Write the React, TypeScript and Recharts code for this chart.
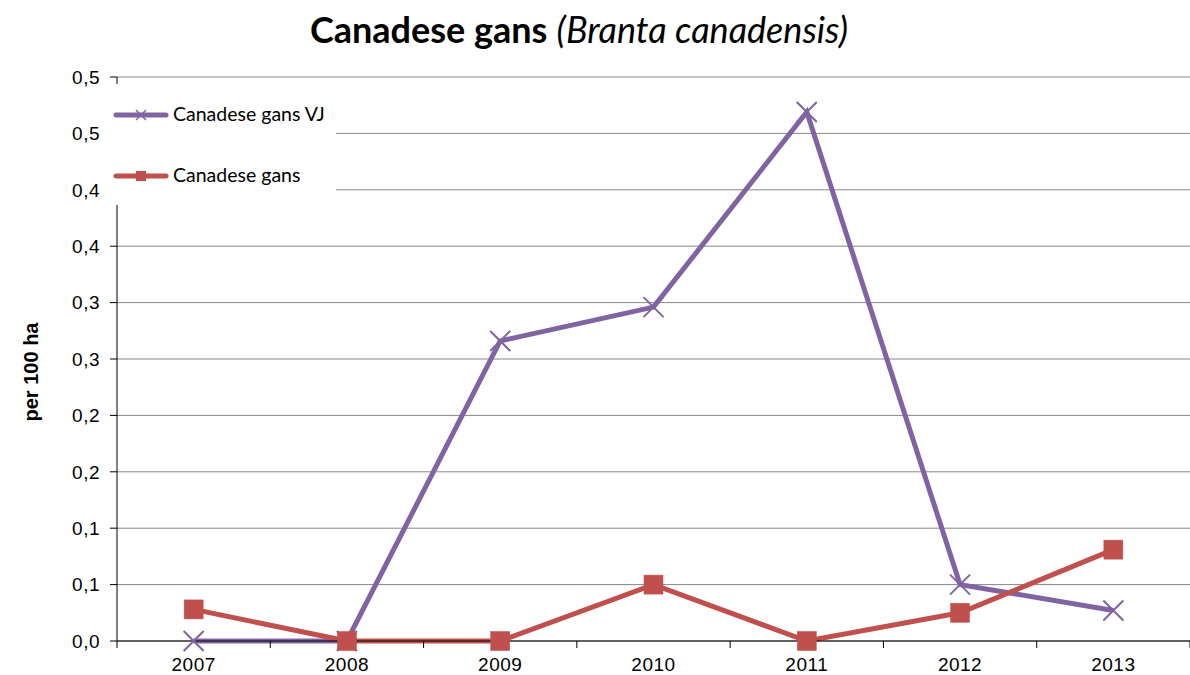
import React from 'react';
import { LineChart, Line, XAxis, YAxis, CartesianGrid, Legend } from 'recharts';

const years = ['2007', '2008', '2009', '2010', '2011', '2012', '2013'];
const vjValues = [0, 0, 0.266, 0.296, 0.469, 0.05, 0.027];
const gansValues = [0.028, 0, 0, 0.05, 0, 0.025, 0.081];
const yTicks = [0, 0.05, 0.1, 0.15, 0.2, 0.25, 0.3, 0.35, 0.4, 0.45, 0.5];
const yTickLabels = ['0,0', '0,1', '0,1', '0,2', '0,2', '0,3', '0,3', '0,4', '0,4', '0,5', '0,5'];
const xTicks = [-0.5, 0, 0.5, 1, 1.5, 2, 2.5, 3, 3.5, 4, 4.5, 5, 5.5, 6, 6.5];
const seriesNames = ['Canadese gans VJ', 'Canadese gans'];

const PURPLE = '#8064A2';
const RED = '#C0504D';

const data = years.map((y, i) => ({ idx: i, year: y, vj: vjValues[i], gans: gansValues[i] }));

const XDot = (props: any) => {
  const { cx, cy } = props;
  if (cx == null || cy == null) return null;
  const s = 10;
  return (
    <g>
      <line x1={cx - s} y1={cy - s} x2={cx + s} y2={cy + s} stroke={PURPLE} strokeWidth={2} />
      <line x1={cx - s} y1={cy + s} x2={cx + s} y2={cy - s} stroke={PURPLE} strokeWidth={2} />
    </g>
  );
};

const SquareDot = (props: any) => {
  const { cx, cy } = props;
  if (cx == null || cy == null) return null;
  const s = 9.5;
  return <rect x={cx - s} y={cy - s} width={2 * s} height={2 * s} fill={RED} stroke={RED} strokeWidth={0.5} />;
};

const XTick = (props: any) => {
  const { x, y, payload } = props;
  const v = payload.value;
  if (Number.isInteger(v)) {
    return (
      <text
        x={x}
        y={y + 30}
        textAnchor="middle"
        fontSize={19}
        letterSpacing={0.5}
        fontFamily="'Liberation Sans', Arial, sans-serif"
        fill="#000"
      >
        {years[v]}
      </text>
    );
  }
  return <line x1={x} x2={x} y1={y} y2={y + 7} stroke="#000" strokeWidth={1} />;
};

const yFormat = (v: number) => {
  const i = yTicks.findIndex((t) => Math.abs(t - v) < 1e-9);
  return i >= 0 ? yTickLabels[i] : String(v);
};

const legendText: React.CSSProperties = {
  position: 'absolute',
  left: 65,
  fontSize: 19.5,
  fontFamily: 'Lato, sans-serif',
  lineHeight: '24px',
  color: '#000',
  whiteSpace: 'nowrap',
};

const renderLegend = () => (
  <div style={{ position: 'relative', width: 228, height: 121, background: '#fff' }}>
    <svg width={64} height={121} style={{ position: 'absolute', left: 0, top: 0 }}>
      <line x1={8} x2={58} y1={31} y2={31} stroke={PURPLE} strokeWidth={5} strokeLinecap="round" />
      <line x1={28} x2={38} y1={26} y2={36} stroke={PURPLE} strokeWidth={1.5} />
      <line x1={28} x2={38} y1={36} y2={26} stroke={PURPLE} strokeWidth={1.5} />
      <line x1={8} x2={58} y1={92} y2={92} stroke={RED} strokeWidth={5} strokeLinecap="round" />
      <rect x={28} y={87} width={10} height={10} fill={RED} />
    </svg>
    <div style={{ ...legendText, top: 18 }}>{seriesNames[0]}</div>
    <div style={{ ...legendText, top: 79 }}>{seriesNames[1]}</div>
  </div>
);

export default function App() {
  return (
    <div style={{ position: 'absolute', left: 0, top: 0, width: 1190, height: 675, background: '#fff' }}>
      <div
        style={{
          position: 'absolute',
          left: 0,
          top: 7,
          width: 1158,
          textAlign: 'center',
          fontFamily: 'Lato, sans-serif',
          fontSize: 36,
          lineHeight: '44px',
          color: '#000',
          zIndex: 2,
        }}
      >
        <span style={{ fontWeight: 'bold' }}>Canadese gans</span>{' '}
        <span style={{ fontStyle: 'italic' }}>(Branta canadensis)</span>
      </div>
      <div
        style={{
          position: 'absolute',
          left: 31,
          top: 372,
          transform: 'translate(-50%, -50%) rotate(-90deg)',
          fontFamily: "'Liberation Sans', Arial, sans-serif",
          fontWeight: 'bold',
          fontSize: 20,
          whiteSpace: 'nowrap',
          color: '#000',
          zIndex: 2,
        }}
      >
        per 100 ha
      </div>
      <LineChart width={1190} height={675} data={data} margin={{ top: 77, right: 0, bottom: 0, left: 0 }}>
        <CartesianGrid vertical={false} stroke="#868686" strokeWidth={1} />
        <XAxis
          dataKey="idx"
          type="number"
          domain={[-0.5, 6.5]}
          ticks={xTicks}
          interval={0}
          allowDecimals
          tickLine={false}
          tickSize={0}
          tickMargin={0}
          axisLine={{ stroke: '#000', strokeWidth: 1 }}
          height={34}
          tick={<XTick />}
        />
        <YAxis
          type="number"
          domain={[0, 0.5]}
          ticks={yTicks}
          interval={0}
          width={117}
          tickSize={7}
          tickMargin={10}
          tickLine={{ stroke: '#000' }}
          axisLine={{ stroke: '#000', strokeWidth: 1 }}
          tickFormatter={yFormat}
          tick={{ fill: '#000', fontSize: 19, letterSpacing: 0.5, fontFamily: "'Liberation Sans', Arial, sans-serif" }}
        />
        <Legend
          layout="vertical"
          align="center"
          verticalAlign="middle"
          content={renderLegend}
          wrapperStyle={{ position: 'absolute', left: 108, top: 84, width: 228, height: 121, background: '#fff' }}
        />
        <Line
          type="linear"
          dataKey="vj"
          name={seriesNames[0]}
          stroke={PURPLE}
          strokeWidth={5}
          dot={<XDot />}
          activeDot={false}
          isAnimationActive={false}
        />
        <Line
          type="linear"
          dataKey="gans"
          name={seriesNames[1]}
          stroke={RED}
          strokeWidth={5}
          dot={<SquareDot />}
          activeDot={false}
          isAnimationActive={false}
        />
      </LineChart>
    </div>
  );
}
